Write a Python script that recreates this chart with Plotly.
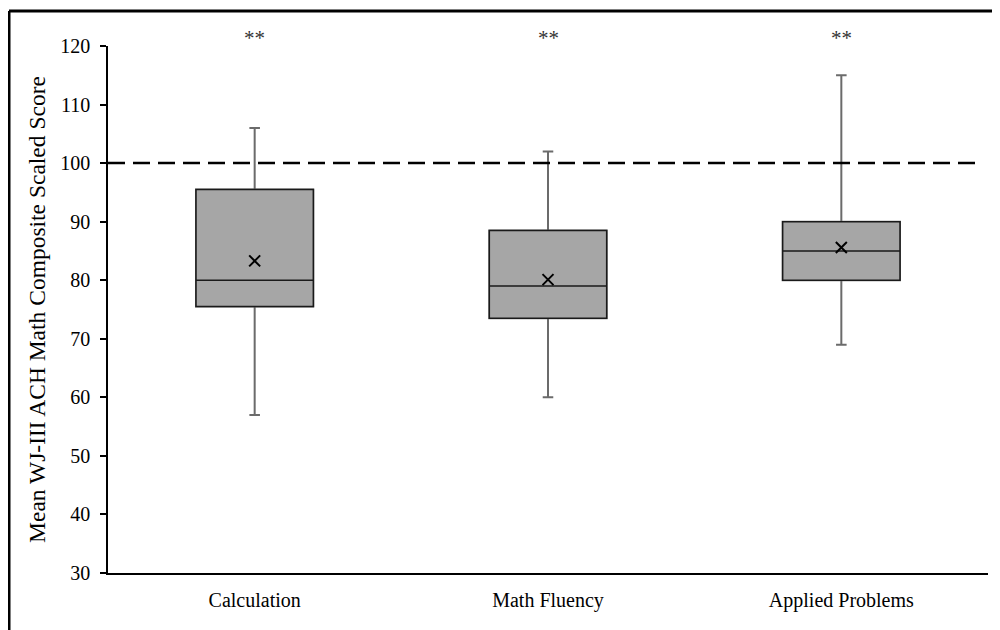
import plotly.graph_objects as go

categories = ["Calculation", "Math Fluency", "Applied Problems"]
lower_whisker = [57, 60, 69]
q1 = [75.5, 73.5, 80]
median = [80, 79, 85]
q3 = [95.5, 88.5, 90]
upper_whisker = [106, 102, 115]
means = [83.3, 80.1, 85.6]
significance = ["**", "**", "**"]
y_ticks = [30, 40, 50, 60, 70, 80, 90, 100, 110, 120]
reference_value = 100

FONT = "Liberation Serif, Times New Roman, serif"

fig = go.Figure()

# whiskers (grey) with caps
fig.add_trace(go.Box(
    x=categories, q1=q1, median=median, q3=q3,
    lowerfence=lower_whisker, upperfence=upper_whisker,
    fillcolor="#a6a6a6", line=dict(color="#6b6b6b", width=2),
    width=0.4, whiskerwidth=0.09, showlegend=False, hoverinfo="skip",
    boxpoints=False,
))
# box body (black outline)
fig.add_trace(go.Box(
    x=categories, q1=q1, median=median, q3=q3,
    lowerfence=q1, upperfence=q3,
    fillcolor="#a6a6a6", line=dict(color="#1a1a1a", width=1.5),
    width=0.4, whiskerwidth=0, showlegend=False,
    boxpoints=False,
))
# means
fig.add_trace(go.Scatter(
    x=categories, y=means, mode="markers",
    marker=dict(symbol="x-thin", size=11, line=dict(color="black", width=2)),
    showlegend=False,
))

for c, s in zip(categories, significance):
    fig.add_annotation(x=c, xref="x", y=1.0, yref="paper", text=s, showarrow=False,
                       yanchor="bottom", yshift=-6,
                       font=dict(family=FONT, size=21, color="#333333"))

fig.add_shape(type="line", xref="paper", yref="y", x0=0, x1=0.991,
              y0=reference_value, y1=reference_value,
              line=dict(color="black", width=2.5, dash="17px,8px"))

# outer frame (top and left)
fig.add_shape(type="line", xref="paper", yref="paper", x0=-0.1125, x1=1.2,
              y0=1.0664, y1=1.0664, line=dict(color="black", width=3))
fig.add_shape(type="line", xref="paper", yref="paper", x0=-0.1125, x1=-0.1125,
              y0=1.0664, y1=-0.15, line=dict(color="black", width=3))

fig.update_layout(
    width=1000, height=630,
    margin=dict(l=100, r=20, t=38, b=65),
    paper_bgcolor="white", plot_bgcolor="white",
    font=dict(family=FONT, color="black"),
    boxmode="overlay",
    xaxis=dict(
        range=[-0.5, 2.5],
        showline=True, linecolor="black", linewidth=1.5,
        ticks="", showgrid=False, zeroline=False,
        ticklabelstandoff=8,
        tickfont=dict(family=FONT, size=20, color="black"),
    ),
    yaxis=dict(
        range=[30, 120], tickvals=y_ticks, automargin=False,
        showline=True, linecolor="black", linewidth=1.5,
        ticks="outside", ticklen=6, tickwidth=1.5, tickcolor="black",
        ticklabelstandoff=6,
        showgrid=False, zeroline=False,
        tickfont=dict(family=FONT, size=20, color="black"),
        title=dict(text="Mean WJ-III ACH Math Composite Scaled Score",
                   font=dict(family=FONT, size=23.5, color="black"), standoff=8),
    ),
)

fig.write_html("out.html")
